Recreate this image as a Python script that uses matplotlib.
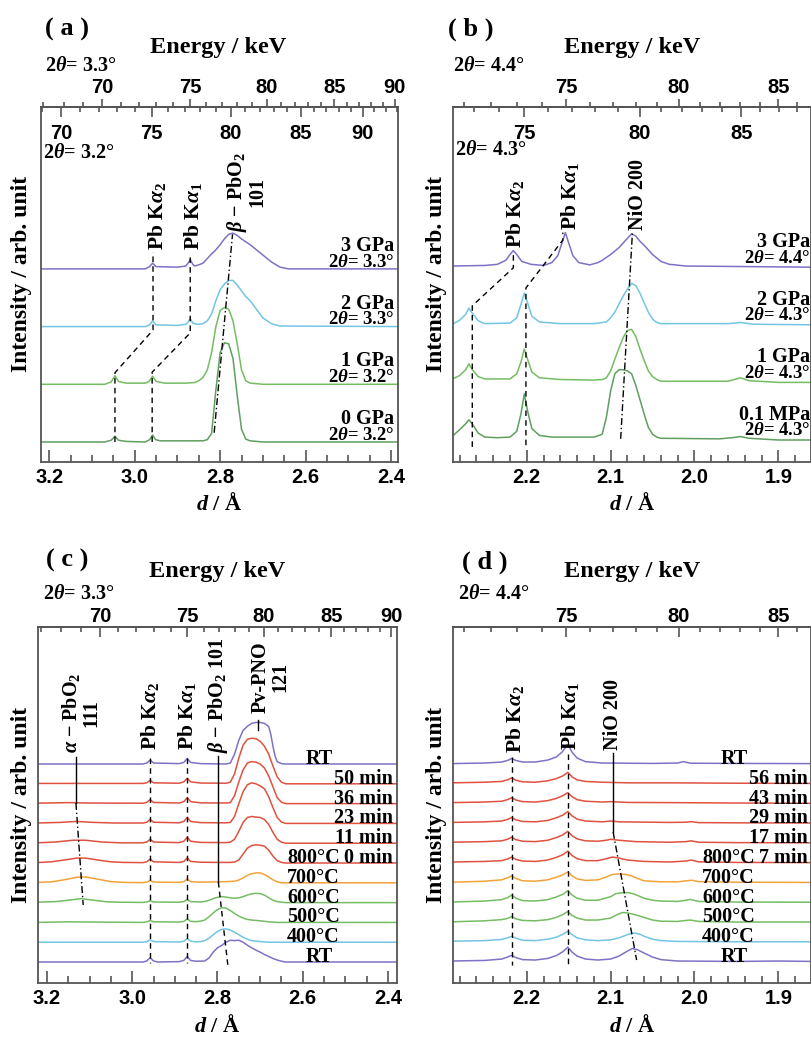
import numpy as np
import matplotlib
matplotlib.use("Agg")
import matplotlib.pyplot as plt
from matplotlib.ticker import MultipleLocator, FixedLocator, FormatStrFormatter

plt.rcParams['font.family'] = ['Liberation Serif', 'DejaVu Serif']
plt.rcParams['font.weight'] = 'bold'
plt.rcParams['axes.labelweight'] = 'bold'
plt.rcParams['mathtext.fontset'] = 'custom'
plt.rcParams['mathtext.rm'] = 'Liberation Serif:bold'
plt.rcParams['mathtext.it'] = 'Liberation Serif:italic:bold'
plt.rcParams['mathtext.bf'] = 'Liberation Serif:bold'

# ---------------- data: (d / Angstrom, height in units of trace spacing) ----------------
# energy tick labels shown on the top scales
a_top_ticks = [70, 75, 80, 85, 90]
b_top_ticks = [75, 80, 85]

# panel (a): pressure series, bottom -> top
a_labels = ['0 GPa', '1 GPa', '2 GPa', '3 GPa']
a_angles = ['3.2', '3.2', '3.3', '3.3']
a_0gpa = [(3.22, 0), (3.07, 0), (3.055, 0.03), (3.046, 0.1), (3.038, 0.03), (3.02, 0.01), (2.975, 0),
          (2.965, 0.04), (2.958, 0.12), (2.951, 0.04), (2.94, 0.02), (2.86, 0.02), (2.84, 0.02), (2.83, 0.04),
          (2.82, 0.15), (2.81, 0.9), (2.80, 1.55), (2.79, 1.72), (2.78, 1.7), (2.77, 1.45), (2.76, 0.8),
          (2.75, 0.22), (2.74, 0.05), (2.73, 0.02), (2.70, 0), (2.38, 0)]
a_1gpa = [(3.22, 0), (3.07, 0), (3.055, 0.04), (3.046, 0.15), (3.038, 0.05), (3.02, 0.02), (2.975, 0.02),
          (2.966, 0.05), (2.958, 0.14), (2.95, 0.05), (2.93, 0.02), (2.88, 0.02), (2.86, 0.03), (2.85, 0.06),
          (2.84, 0.12), (2.83, 0.25), (2.82, 0.55), (2.81, 1.0), (2.80, 1.28), (2.79, 1.33), (2.78, 1.3),
          (2.77, 1.1), (2.76, 0.7), (2.75, 0.25), (2.74, 0.06), (2.73, 0.02), (2.70, 0), (2.38, 0)]
a_2gpa = [(3.22, 0), (2.975, 0), (2.965, 0.03), (2.958, 0.1), (2.95, 0.03), (2.9, 0.02), (2.88, 0.04),
          (2.875, 0.08), (2.87, 0.14), (2.864, 0.06), (2.855, 0.04), (2.84, 0.05), (2.83, 0.1), (2.82, 0.22),
          (2.81, 0.45), (2.80, 0.64), (2.79, 0.74), (2.78, 0.8), (2.77, 0.8), (2.76, 0.72), (2.75, 0.62),
          (2.74, 0.52), (2.73, 0.45), (2.72, 0.35), (2.71, 0.25), (2.70, 0.15), (2.68, 0.05), (2.66, 0.01),
          (2.38, 0)]
a_3gpa = [(3.22, 0), (2.975, 0), (2.965, 0.04), (2.958, 0.1), (2.95, 0.04), (2.9, 0.03), (2.88, 0.05),
          (2.875, 0.1), (2.87, 0.16), (2.864, 0.08), (2.86, 0.05), (2.85, 0.07), (2.84, 0.1), (2.83, 0.18),
          (2.82, 0.26), (2.81, 0.33), (2.80, 0.42), (2.79, 0.52), (2.78, 0.6), (2.77, 0.62), (2.76, 0.58),
          (2.75, 0.52), (2.74, 0.47), (2.73, 0.42), (2.72, 0.36), (2.71, 0.3), (2.70, 0.24), (2.68, 0.12),
          (2.66, 0.03), (2.64, 0), (2.38, 0)]

# panel (b): pressure series, bottom -> top
b_labels = ['0.1 MPa', '1 GPa', '2 GPa', '3 GPa']
b_angles = ['4.3', '4.3', '4.3', '4.4']
b_01mpa = [(2.29, 0.05), (2.28, 0.18), (2.273, 0.28), (2.269, 0.35), (2.265, 0.28), (2.258, 0.12), (2.25, 0.05),
           (2.235, 0.04), (2.22, 0.05), (2.212, 0.15), (2.207, 0.45), (2.203, 0.8), (2.199, 0.5), (2.194, 0.2),
           (2.185, 0.08), (2.17, 0.05), (2.14, 0.05), (2.12, 0.05), (2.11, 0.1), (2.105, 0.4), (2.10, 0.85),
           (2.095, 1.15), (2.09, 1.22), (2.085, 1.22), (2.08, 1.2), (2.075, 1.15), (2.07, 0.95), (2.065, 0.7),
           (2.06, 0.45), (2.055, 0.22), (2.05, 0.1), (2.045, 0.05), (2.04, 0.03), (1.97, 0.02), (1.955, 0.04),
           (1.945, 0.06), (1.935, 0.03), (1.90, 0.0), (1.86, 0.0)]
b_1gpa = [(2.29, 0.05), (2.28, 0.12), (2.273, 0.22), (2.269, 0.32), (2.265, 0.22), (2.258, 0.1), (2.25, 0.06),
          (2.22, 0.06), (2.212, 0.15), (2.207, 0.35), (2.203, 0.58), (2.199, 0.4), (2.194, 0.18), (2.185, 0.08),
          (2.16, 0.05), (2.12, 0.04), (2.11, 0.05), (2.105, 0.08), (2.10, 0.2), (2.095, 0.4), (2.09, 0.6),
          (2.085, 0.78), (2.08, 0.9), (2.075, 0.92), (2.07, 0.8), (2.065, 0.58), (2.06, 0.38), (2.055, 0.2),
          (2.05, 0.1), (2.045, 0.05), (2.04, 0.02), (1.96, 0.02), (1.95, 0.06), (1.945, 0.08), (1.935, 0.03),
          (1.90, 0.0), (1.86, 0.0)]
b_2gpa = [(2.29, 0.0), (2.28, 0.08), (2.273, 0.18), (2.269, 0.29), (2.265, 0.2), (2.258, 0.07), (2.25, 0.02),
          (2.22, 0.03), (2.212, 0.12), (2.207, 0.35), (2.203, 0.55), (2.199, 0.38), (2.194, 0.15), (2.185, 0.05),
          (2.16, 0.02), (2.12, 0.02), (2.105, 0.05), (2.10, 0.12), (2.095, 0.22), (2.09, 0.36), (2.085, 0.5),
          (2.08, 0.62), (2.075, 0.72), (2.07, 0.68), (2.065, 0.55), (2.06, 0.38), (2.055, 0.22), (2.05, 0.1),
          (2.045, 0.04), (2.04, 0.02), (1.96, 0.02), (1.945, 0.04), (1.93, 0.01), (1.86, 0.0)]
b_3gpa = [(2.29, 0.02), (2.25, 0.03), (2.235, 0.05), (2.225, 0.12), (2.22, 0.22), (2.216, 0.29), (2.212, 0.22),
          (2.206, 0.1), (2.195, 0.05), (2.18, 0.03), (2.17, 0.08), (2.163, 0.2), (2.158, 0.42), (2.154, 0.6),
          (2.15, 0.42), (2.145, 0.2), (2.138, 0.08), (2.125, 0.04), (2.115, 0.08), (2.11, 0.12), (2.105, 0.17),
          (2.10, 0.22), (2.095, 0.28), (2.09, 0.34), (2.085, 0.42), (2.08, 0.5), (2.075, 0.58), (2.07, 0.54),
          (2.065, 0.45), (2.06, 0.38), (2.055, 0.3), (2.05, 0.22), (2.045, 0.16), (2.04, 0.1), (2.03, 0.05),
          (2.01, 0.02), (1.86, 0.0)]

# panel (c): heating series at 2theta = 3.3, bottom -> top
c_temps = ['RT', '400°C', '500°C', '600°C', '700°C', '800°C', '', '', '', '', 'RT']
c_times = ['', '', '', '', '', '0 min', '11 min', '23 min', '36 min', '50 min', '']
c_rt0 = [(3.225, 0), (2.975, 0), (2.966, 0.05), (2.958, 0.22), (2.95, 0.05), (2.94, 0), (2.89, 0.02),
         (2.879, 0.08), (2.871, 0.28), (2.863, 0.08), (2.85, 0.04), (2.83, 0.05), (2.82, 0.2), (2.81, 0.5),
         (2.80, 0.72), (2.79, 0.84), (2.78, 1.0), (2.77, 1.1), (2.76, 1.08), (2.75, 1.1), (2.74, 1.0),
         (2.73, 0.85), (2.72, 0.72), (2.71, 0.6), (2.70, 0.5), (2.69, 0.38), (2.68, 0.28), (2.67, 0.18),
         (2.66, 0.1), (2.65, 0.04), (2.64, 0), (2.375, 0)]
c_400 = [(3.225, 0), (2.975, 0), (2.966, 0.03), (2.958, 0.12), (2.95, 0.03), (2.89, 0.01), (2.879, 0.05),
         (2.871, 0.18), (2.863, 0.05), (2.85, 0.02), (2.84, 0.03), (2.83, 0.08), (2.82, 0.2), (2.81, 0.38),
         (2.80, 0.55), (2.79, 0.65), (2.78, 0.67), (2.77, 0.62), (2.76, 0.5), (2.75, 0.38), (2.74, 0.25),
         (2.73, 0.15), (2.72, 0.08), (2.70, 0.03), (2.68, 0), (2.375, 0)]
c_500 = [(3.225, 0), (3.15, 0.03), (3.1, 0.02), (2.975, 0), (2.966, 0.03), (2.958, 0.1), (2.95, 0.03),
         (2.89, 0.02), (2.879, 0.05), (2.871, 0.18), (2.863, 0.05), (2.85, 0.04), (2.84, 0.06), (2.83, 0.12),
         (2.82, 0.28), (2.81, 0.48), (2.80, 0.65), (2.79, 0.75), (2.78, 0.72), (2.77, 0.6), (2.76, 0.45),
         (2.75, 0.32), (2.74, 0.22), (2.73, 0.15), (2.72, 0.12), (2.71, 0.1), (2.70, 0.08), (2.68, 0.03),
         (2.66, 0), (2.375, 0)]
c_600 = [(3.225, 0.02), (3.18, 0.05), (3.15, 0.12), (3.12, 0.2), (3.09, 0.12), (3.06, 0.04), (3.03, 0.02),
         (2.975, 0.01), (2.966, 0.03), (2.958, 0.1), (2.95, 0.03), (2.89, 0.02), (2.879, 0.05), (2.871, 0.16),
         (2.863, 0.05), (2.84, 0.03), (2.83, 0.06), (2.82, 0.12), (2.81, 0.2), (2.80, 0.27), (2.79, 0.3),
         (2.78, 0.28), (2.77, 0.24), (2.76, 0.22), (2.75, 0.24), (2.74, 0.3), (2.73, 0.38), (2.72, 0.44),
         (2.71, 0.47), (2.70, 0.45), (2.69, 0.38), (2.68, 0.25), (2.67, 0.12), (2.66, 0.05), (2.64, 0),
         (2.375, 0)]
c_700 = [(3.225, 0.02), (3.19, 0.05), (3.16, 0.15), (3.13, 0.28), (3.11, 0.3), (3.08, 0.18), (3.05, 0.06),
         (3.02, 0.02), (2.975, 0.01), (2.966, 0.04), (2.958, 0.12), (2.95, 0.04), (2.89, 0.02), (2.879, 0.06),
         (2.871, 0.2), (2.863, 0.06), (2.84, 0.03), (2.80, 0.05), (2.78, 0.06), (2.76, 0.08), (2.75, 0.14),
         (2.74, 0.25), (2.73, 0.38), (2.72, 0.46), (2.71, 0.5), (2.70, 0.5), (2.69, 0.42), (2.68, 0.3),
         (2.67, 0.15), (2.66, 0.05), (2.65, 0), (2.375, 0)]
c_800_0 = [(3.225, 0.02), (3.19, 0.06), (3.16, 0.15), (3.13, 0.25), (3.11, 0.25), (3.08, 0.15), (3.05, 0.06),
           (3.02, 0.03), (2.975, 0.02), (2.966, 0.06), (2.958, 0.2), (2.95, 0.06), (2.89, 0.03), (2.879, 0.08),
           (2.871, 0.25), (2.863, 0.08), (2.84, 0.04), (2.80, 0.03), (2.77, 0.03), (2.76, 0.05), (2.75, 0.15),
           (2.74, 0.45), (2.73, 0.75), (2.72, 0.88), (2.71, 0.92), (2.70, 0.9), (2.69, 0.85), (2.68, 0.65),
           (2.67, 0.35), (2.66, 0.12), (2.65, 0.03), (2.64, 0), (2.375, 0)]
c_800_11 = [(3.225, 0.02), (3.18, 0.06), (3.14, 0.15), (3.11, 0.15), (3.07, 0.06), (3.03, 0.02), (2.975, 0.02),
            (2.966, 0.06), (2.958, 0.2), (2.95, 0.06), (2.89, 0.03), (2.879, 0.1), (2.871, 0.3), (2.863, 0.1),
            (2.84, 0.04), (2.78, 0.03), (2.77, 0.05), (2.76, 0.2), (2.75, 0.6), (2.74, 1.05), (2.73, 1.3),
            (2.72, 1.35), (2.71, 1.32), (2.70, 1.3), (2.69, 1.2), (2.68, 0.95), (2.67, 0.55), (2.66, 0.2),
            (2.65, 0.05), (2.64, 0), (2.375, 0)]
c_800_23 = [(3.225, 0.02), (3.17, 0.05), (3.13, 0.1), (3.09, 0.05), (3.04, 0.02), (2.975, 0.02), (2.966, 0.06),
            (2.958, 0.2), (2.95, 0.06), (2.89, 0.03), (2.879, 0.1), (2.871, 0.3), (2.863, 0.1), (2.84, 0.04),
            (2.78, 0.03), (2.77, 0.05), (2.76, 0.35), (2.75, 1.0), (2.74, 1.6), (2.73, 1.95), (2.72, 2.05),
            (2.71, 2.0), (2.70, 1.9), (2.69, 1.75), (2.68, 1.35), (2.67, 0.8), (2.66, 0.3), (2.65, 0.07),
            (2.64, 0), (2.375, 0)]
c_800_36 = [(3.225, 0.02), (3.15, 0.05), (3.1, 0.03), (2.975, 0.02), (2.966, 0.06), (2.958, 0.2), (2.95, 0.06),
            (2.89, 0.03), (2.879, 0.1), (2.871, 0.3), (2.863, 0.1), (2.84, 0.04), (2.78, 0.03), (2.77, 0.05),
            (2.76, 0.4), (2.75, 1.1), (2.74, 1.7), (2.73, 2.05), (2.72, 2.12), (2.71, 2.1), (2.70, 2.0),
            (2.69, 1.8), (2.68, 1.4), (2.67, 0.85), (2.66, 0.3), (2.65, 0.07), (2.64, 0), (2.375, 0)]
c_800_50 = [(3.225, 0.02), (2.975, 0.02), (2.966, 0.05), (2.958, 0.18), (2.95, 0.05), (2.89, 0.03),
            (2.879, 0.1), (2.871, 0.28), (2.863, 0.1), (2.84, 0.04), (2.78, 0.03), (2.77, 0.08), (2.76, 0.5),
            (2.75, 1.3), (2.74, 1.95), (2.73, 2.25), (2.72, 2.3), (2.71, 2.28), (2.70, 2.15), (2.69, 1.9),
            (2.68, 1.5), (2.67, 0.9), (2.66, 0.35), (2.65, 0.08), (2.64, 0), (2.375, 0)]
c_rt1 = [(3.225, 0), (2.975, 0), (2.966, 0.05), (2.958, 0.2), (2.95, 0.05), (2.89, 0.02), (2.879, 0.08),
         (2.871, 0.28), (2.863, 0.08), (2.84, 0.02), (2.78, 0), (2.77, 0.05), (2.76, 0.5), (2.75, 1.2),
         (2.74, 1.7), (2.73, 1.9), (2.72, 2.05), (2.71, 2.1), (2.70, 2.1), (2.69, 2.05), (2.68, 1.9),
         (2.675, 1.5), (2.67, 0.9), (2.665, 0.4), (2.66, 0.12), (2.65, 0.02), (2.64, 0), (2.375, 0)]

# panel (d): heating series at 2theta = 4.4, bottom -> top
d_temps = ['RT', '400°C', '500°C', '600°C', '700°C', '800°C', '', '', '', '', 'RT']
d_times = ['', '', '', '', '', '7 min', '17 min', '29 min', '43 min', '56 min', '']
d_rt0 = [(2.29, 0.05), (2.25, 0.08), (2.23, 0.15), (2.223, 0.25), (2.218, 0.34), (2.213, 0.22), (2.205, 0.12),
         (2.19, 0.1), (2.175, 0.18), (2.165, 0.32), (2.157, 0.52), (2.151, 0.75), (2.146, 0.5), (2.14, 0.3),
         (2.13, 0.15), (2.115, 0.1), (2.10, 0.15), (2.09, 0.3), (2.08, 0.55), (2.074, 0.68), (2.068, 0.62),
         (2.06, 0.45), (2.05, 0.25), (2.04, 0.12), (2.02, 0.05), (1.95, 0.03), (1.90, 0.05), (1.86, 0.03)]
d_400 = [(2.29, 0.05), (2.25, 0.08), (2.23, 0.14), (2.223, 0.22), (2.218, 0.3), (2.213, 0.2), (2.205, 0.1),
         (2.19, 0.08), (2.175, 0.15), (2.165, 0.25), (2.157, 0.4), (2.151, 0.55), (2.146, 0.38), (2.14, 0.22),
         (2.13, 0.12), (2.115, 0.08), (2.10, 0.12), (2.09, 0.22), (2.08, 0.38), (2.073, 0.47), (2.066, 0.42),
         (2.06, 0.3), (2.05, 0.15), (2.04, 0.08), (2.02, 0.04), (1.95, 0.02), (1.86, 0.02)]
d_500 = [(2.29, 0.03), (2.25, 0.08), (2.23, 0.14), (2.223, 0.2), (2.218, 0.3), (2.213, 0.18), (2.205, 0.1),
         (2.19, 0.08), (2.175, 0.14), (2.165, 0.25), (2.157, 0.4), (2.151, 0.55), (2.146, 0.35), (2.14, 0.22),
         (2.13, 0.12), (2.115, 0.12), (2.10, 0.22), (2.093, 0.38), (2.086, 0.5), (2.08, 0.48), (2.07, 0.38),
         (2.06, 0.25), (2.05, 0.12), (2.04, 0.06), (2.02, 0.05), (2.01, 0.1), (2.005, 0.12), (1.995, 0.05),
         (1.95, 0.02), (1.86, 0.02)]
d_600 = [(2.29, 0.03), (2.25, 0.08), (2.23, 0.15), (2.223, 0.25), (2.218, 0.38), (2.213, 0.22), (2.205, 0.1),
         (2.19, 0.08), (2.175, 0.15), (2.165, 0.28), (2.157, 0.42), (2.151, 0.6), (2.146, 0.38), (2.14, 0.22),
         (2.13, 0.12), (2.115, 0.12), (2.10, 0.3), (2.094, 0.45), (2.086, 0.5), (2.078, 0.5), (2.07, 0.4),
         (2.06, 0.22), (2.05, 0.12), (2.04, 0.08), (2.02, 0.06), (2.01, 0.12), (2.005, 0.16), (1.995, 0.06),
         (1.95, 0.03), (1.86, 0.02)]
d_700 = [(2.29, 0.03), (2.25, 0.08), (2.23, 0.15), (2.223, 0.25), (2.218, 0.35), (2.213, 0.22), (2.205, 0.1),
         (2.19, 0.08), (2.175, 0.15), (2.165, 0.28), (2.157, 0.4), (2.151, 0.55), (2.146, 0.35), (2.14, 0.2),
         (2.13, 0.12), (2.115, 0.15), (2.105, 0.3), (2.098, 0.42), (2.091, 0.45), (2.082, 0.42), (2.075, 0.35),
         (2.068, 0.22), (2.06, 0.1), (2.04, 0.05), (2.02, 0.05), (2.01, 0.1), (2.003, 0.13), (1.995, 0.06),
         (1.95, 0.03), (1.86, 0.02)]
d_800_7 = [(2.29, 0.05), (2.25, 0.08), (2.23, 0.12), (2.223, 0.2), (2.218, 0.3), (2.213, 0.18), (2.205, 0.1),
           (2.19, 0.08), (2.175, 0.15), (2.165, 0.28), (2.157, 0.42), (2.151, 0.6), (2.146, 0.38), (2.14, 0.22),
           (2.13, 0.12), (2.115, 0.12), (2.105, 0.22), (2.098, 0.3), (2.09, 0.25), (2.08, 0.15), (2.06, 0.08),
           (2.03, 0.05), (2.01, 0.1), (2.004, 0.15), (1.995, 0.06), (1.95, 0.03), (1.86, 0.02)]
d_800_17 = [(2.29, 0.05), (2.25, 0.08), (2.23, 0.12), (2.223, 0.2), (2.218, 0.3), (2.213, 0.18), (2.205, 0.1),
            (2.19, 0.08), (2.175, 0.15), (2.165, 0.28), (2.157, 0.42), (2.151, 0.6), (2.146, 0.38), (2.14, 0.22),
            (2.13, 0.12), (2.115, 0.1), (2.105, 0.15), (2.10, 0.2), (2.09, 0.15), (2.07, 0.08), (2.03, 0.05),
            (2.01, 0.08), (2.004, 0.12), (1.995, 0.05), (1.95, 0.03), (1.86, 0.02)]
d_800_29 = [(2.29, 0.05), (2.25, 0.08), (2.23, 0.12), (2.223, 0.2), (2.218, 0.3), (2.213, 0.18), (2.205, 0.1),
            (2.19, 0.08), (2.175, 0.15), (2.165, 0.28), (2.157, 0.42), (2.151, 0.6), (2.146, 0.38), (2.14, 0.22),
            (2.13, 0.12), (2.11, 0.08), (2.10, 0.12), (2.09, 0.08), (2.03, 0.05), (2.01, 0.06), (2.004, 0.09),
            (1.995, 0.04), (1.95, 0.03), (1.86, 0.02)]
d_800_43 = [(2.29, 0.05), (2.25, 0.08), (2.23, 0.12), (2.223, 0.2), (2.218, 0.3), (2.213, 0.18), (2.205, 0.1),
            (2.19, 0.08), (2.175, 0.15), (2.165, 0.26), (2.157, 0.4), (2.151, 0.55), (2.146, 0.35), (2.14, 0.2),
            (2.13, 0.12), (2.11, 0.08), (2.10, 0.1), (2.08, 0.06), (2.03, 0.05), (1.95, 0.03), (1.86, 0.02)]
d_800_56 = [(2.29, 0.05), (2.25, 0.08), (2.23, 0.12), (2.223, 0.2), (2.218, 0.3), (2.213, 0.18), (2.205, 0.1),
            (2.19, 0.08), (2.175, 0.15), (2.165, 0.26), (2.157, 0.4), (2.151, 0.58), (2.146, 0.35), (2.14, 0.2),
            (2.13, 0.12), (2.11, 0.08), (2.08, 0.05), (2.03, 0.05), (1.95, 0.03), (1.86, 0.02)]
d_rt1 = [(2.29, 0.02), (2.25, 0.05), (2.23, 0.1), (2.223, 0.18), (2.218, 0.28), (2.213, 0.18), (2.205, 0.1),
         (2.19, 0.1), (2.175, 0.2), (2.165, 0.35), (2.158, 0.6), (2.151, 1.0), (2.146, 0.6), (2.14, 0.3),
         (2.13, 0.12), (2.11, 0.05), (2.05, 0.03), (2.02, 0.05), (2.013, 0.12), (2.005, 0.04), (1.95, 0.03),
         (1.86, 0.02)]

PURPLE, LBLUE, GREEN, DGREEN = '#7d72c6', '#72c5e3', '#74bd62', '#5f9f5f'
ORANGE, RED = '#f2a33a', '#e0513f'
SPINE = '#555555'

a_traces = [a_0gpa, a_1gpa, a_2gpa, a_3gpa]
a_colors = [DGREEN, GREEN, LBLUE, PURPLE]
b_traces = [b_01mpa, b_1gpa, b_2gpa, b_3gpa]
b_colors = [DGREEN, GREEN, LBLUE, PURPLE]
c_traces = [c_rt0, c_400, c_500, c_600, c_700, c_800_0, c_800_11, c_800_23, c_800_36, c_800_50, c_rt1]
d_traces = [d_rt0, d_400, d_500, d_600, d_700, d_800_7, d_800_17, d_800_29, d_800_43, d_800_56, d_rt1]
cd_colors = [PURPLE, LBLUE, GREEN, GREEN, ORANGE, RED, RED, RED, RED, RED, PURPLE]

W, H = 811, 1040
fig = plt.figure(figsize=(W / 100, H / 100), dpi=100)
TICK = 14.5


def rect(l, t, r, b):
    return [l / W, 1 - b / H, (r - l) / W, (b - t) / H]


def ftext(x, y, s, **kw):
    fig.text(x / W, 1 - y / H, s, **kw)


def energy(two_theta):
    k = 12.398 / (2 * np.sin(np.radians(two_theta / 2)))

    def f(v):
        v = np.asarray(v, float)
        with np.errstate(divide='ignore'):
            return k / v
    return f, f


def th(s):
    return r'2$\theta$= ' + s + '°'


def setup(ax, xlim, ylim, major, minor, ylabel_x, ylabel_y):
    ax.set_xlim(xlim)
    ax.set_ylim(ylim)
    ax.set_yticks([])
    for sp in ax.spines.values():
        sp.set_color(SPINE)
        sp.set_linewidth(1.3)
    ax.xaxis.set_major_locator(MultipleLocator(major))
    ax.xaxis.set_minor_locator(MultipleLocator(minor))
    ax.xaxis.set_major_formatter(FormatStrFormatter('%.1f'))
    ax.tick_params(axis='x', which='both', direction='in', top=False, color=SPINE, width=1.2)
    ax.tick_params(axis='x', which='major', length=9, pad=4, labelsize=TICK, labelfontfamily='Liberation Sans')
    ax.tick_params(axis='x', which='minor', length=5)
    ax.set_xlabel(r'$\mathit{d}$ / Å', fontsize=16, labelpad=5)
    ax.set_ylabel('Intensity / arb. unit', fontsize=17)
    ax.yaxis.set_label_coords(ylabel_x, ylabel_y)


def energy_axis(ax, two_theta, ticks, direction, length, pad):
    sec = ax.secondary_xaxis('top', functions=energy(two_theta))
    sec.xaxis.set_major_locator(FixedLocator(ticks))
    sec.xaxis.set_minor_locator(MultipleLocator(1))
    sec.spines['top'].set_color(SPINE)
    sec.spines['top'].set_linewidth(1.3)
    sec.tick_params(which='both', direction=direction, color=SPINE, width=1.2)
    sec.tick_params(which='major', length=length, pad=pad, labelsize=TICK, labelfontfamily='Liberation Sans')
    sec.tick_params(which='minor', length=3.5)
    return sec


def draw(ax, traces, colors):
    for i, (tr, col) in enumerate(zip(traces, colors)):
        d, h = zip(*tr)
        ax.plot(d, np.array(h) + i, color=col, lw=1.1)


def vlabel(ax, x, y, s, size=14.5):
    ax.text(x, y, s, rotation=90, rotation_mode='anchor', ha='left', va='center',
            multialignment='center', fontsize=size, linespacing=0.95)


def pressure_labels(ax, labels, angles, x, lift):
    tr = ax.get_yaxis_transform()
    for i, (p, a) in enumerate(zip(labels, angles)):
        ax.text(x, i + lift, p, transform=tr, ha='right', va='baseline', fontsize=14.5)
        ax.text(x, i + lift - 0.27, th(a), transform=tr, ha='right', va='baseline', fontsize=13.5)


DASH = (0, (4, 3))
DASHDOT = (0, (5, 2, 1, 2))
KA2 = r'Pb K$\alpha_2$'
KA1 = r'Pb K$\alpha_1$'

# ---------------- panel (a) ----------------
ax = fig.add_axes(rect(41, 107, 398, 462))
setup(ax, (3.219, 2.384), (-0.347, 5.806), 0.2, 0.05, -0.025, 0.53)
energy_axis(ax, 3.3, a_top_ticks, 'out', 6, 1.5)
energy_axis(ax, 3.2, a_top_ticks, 'in', 7, -26)
draw(ax, a_traces, a_colors)
ax.plot([3.046, 3.046, 2.957, 2.957], [0, 1.2, 1.94, 3.29], color='k', lw=1, ls=DASH)
ax.plot([2.959, 2.959, 2.870, 2.870], [0, 1.21, 1.89, 3.24], color='k', lw=1, ls=DASH)
ax.plot([2.814, 2.771], [0.16, 3.6], color='k', lw=1, ls=DASHDOT)
vlabel(ax, 2.948, 3.33, KA2, 15.5)
vlabel(ax, 2.863, 3.33, KA1, 15.5)
vlabel(ax, 2.739, 3.64, r'$\beta$ − PbO$_2$' + '\n101')
pressure_labels(ax, a_labels, a_angles, 0.99, 0.31)
ftext(67, 29, '( a )', ha='center', va='center', fontsize=19)
ftext(218, 47, 'Energy / keV', ha='center', va='center', fontsize=17.5)
ftext(45, 66, th('3.3'), ha='left', va='center', fontsize=14.5)
ftext(43, 153, th('3.2'), ha='left', va='center', fontsize=14.5)

# ---------------- panel (b) ----------------
ax = fig.add_axes(rect(453, 107, 811, 462))
setup(ax, (2.288, 1.861), (-0.382, 5.781), 0.1, 0.02, -0.017, 0.53)
energy_axis(ax, 4.4, b_top_ticks, 'out', 6, 1.5)
energy_axis(ax, 4.3, b_top_ticks, 'in', 7, -26)
draw(ax, b_traces, b_colors)
ax.plot([2.265, 2.265, 2.216, 2.216], [-0.12, 2.33, 2.99, 3.25], color='k', lw=1, ls=DASH)
ax.plot([2.201, 2.201, 2.157, 2.157], [-0.09, 2.64, 3.47, 3.6], color='k', lw=1, ls=DASH)
ax.plot([2.088, 2.074], [0.02, 3.6], color='k', lw=1, ls=DASHDOT)
vlabel(ax, 2.214, 3.33, KA2, 15.5)
vlabel(ax, 2.148, 3.65, KA1, 15.5)
vlabel(ax, 2.067, 3.65, 'NiO 200')
pressure_labels(ax, b_labels, b_angles, 0.998, 0.35)
ftext(471, 29, '( b )', ha='center', va='center', fontsize=19)
ftext(632, 47, 'Energy / keV', ha='center', va='center', fontsize=17.5)
ftext(453, 66, th('4.4'), ha='left', va='center', fontsize=14.5)
ftext(455, 150, th('4.3'), ha='left', va='center', fontsize=14.5)

# ---------------- panel (c) ----------------
ax = fig.add_axes(rect(38, 627, 397, 983))
setup(ax, (3.221, 2.379), (-1.06, 16.92), 0.2, 0.05, -0.017, 0.5)
energy_axis(ax, 3.3, a_top_ticks, 'in', 7, 0.5)
draw(ax, c_traces, cd_colors)
ax.plot([3.132, 3.132], [10.35, 8.03], color='k', lw=1)
ax.plot([3.132, 3.115], [8.03, 2.88], color='k', lw=1, ls=DASHDOT)
ax.plot([2.958, 2.958], [10.3, -0.05], color='k', lw=1, ls=DASH)
ax.plot([2.871, 2.871], [10.3, -0.05], color='k', lw=1, ls=DASH)
ax.plot([2.798, 2.798], [10.4, 4.04], color='k', lw=1)
ax.plot([2.798, 2.775], [4.04, -0.3], color='k', lw=1, ls=DASH)
ax.plot([2.705, 2.705], [12.2, 11.7], color='k', lw=1)
vlabel(ax, 3.120, 10.56, r'$\alpha$ − PbO$_2$' + '\n111')
vlabel(ax, 2.958, 10.7, KA2, 15.5)
vlabel(ax, 2.871, 10.7, KA1, 15.5)
vlabel(ax, 2.798, 10.56, r'$\beta$ − PbO$_2$ 101')
vlabel(ax, 2.676, 12.58, 'Pv-PNO\n121')
tr = ax.get_yaxis_transform()
for i, (t, m) in enumerate(zip(c_temps, c_times)):
    if t == 'RT':
        ax.text(0.783, i, t, transform=tr, ha='center', va='baseline', fontsize=14.5)
    elif t:
        ax.text(0.694, i, t, transform=tr, ha='left', va='baseline', fontsize=14.5)
    if m:
        ax.text(0.989, i, m, transform=tr, ha='right', va='baseline', fontsize=14.5)
ftext(67, 560, '( c )', ha='center', va='center', fontsize=19)
ftext(217, 572, 'Energy / keV', ha='center', va='center', fontsize=17.5)
ftext(43, 594, th('3.3'), ha='left', va='center', fontsize=14.5)

# ---------------- panel (d) ----------------
ax = fig.add_axes(rect(453, 627, 811, 983))
setup(ax, (2.288, 1.861), (-1.06, 16.92), 0.1, 0.02, -0.017, 0.5)
energy_axis(ax, 4.4, b_top_ticks, 'in', 7, 0.5)
draw(ax, d_traces, cd_colors)
ax.plot([2.218, 2.218], [10.35, -0.15], color='k', lw=1, ls=DASH)
ax.plot([2.151, 2.151], [10.5, -0.15], color='k', lw=1, ls=DASH)
ax.plot([2.097, 2.097], [10.56, 6.57], color='k', lw=1)
ax.plot([2.097, 2.069], [6.57, 0.1], color='k', lw=1, ls=DASHDOT)
vlabel(ax, 2.214, 10.56, KA2, 15.5)
vlabel(ax, 2.148, 10.7, KA1, 15.5)
vlabel(ax, 2.097, 10.7, 'NiO 200')
tr = ax.get_yaxis_transform()
for i, (t, m) in enumerate(zip(d_temps, d_times)):
    if t == 'RT':
        ax.text(0.785, i, t, transform=tr, ha='center', va='baseline', fontsize=14.5)
    elif t:
        ax.text(0.696, i, t, transform=tr, ha='left', va='baseline', fontsize=14.5)
    if m:
        ax.text(0.992, i, m, transform=tr, ha='right', va='baseline', fontsize=14.5)
ftext(485, 562, '( d )', ha='center', va='center', fontsize=19)
ftext(632, 572, 'Energy / keV', ha='center', va='center', fontsize=17.5)
ftext(458, 594, th('4.4'), ha='left', va='center', fontsize=14.5)

fig.savefig('out.png', dpi=100)
